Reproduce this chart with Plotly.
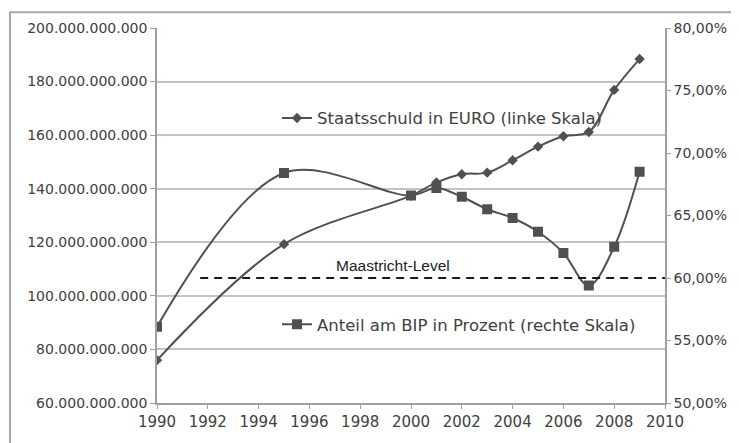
import plotly.graph_objects as go

# ---- data ----
years = [1990, 1995, 2000, 2001, 2002, 2003, 2004, 2005, 2006, 2007, 2008, 2009]
debt_eur = [76.0e9, 119.3e9, 137.4e9, 142.3e9, 145.4e9, 146.0e9, 150.6e9, 155.7e9,
            159.6e9, 161.2e9, 176.9e9, 188.4e9]
debt_pct = [56.1, 68.4, 66.6, 67.2, 66.5, 65.5, 64.8, 63.7, 62.0, 59.4, 62.5, 68.5]
maastricht_x = [1991.7, 2010]
maastricht_level = 60.0

name_debt = "Staatsschuld in EURO (linke Skala)"
name_pct = "Anteil am BIP in Prozent (rechte Skala)"
label_maastricht = "Maastricht-Level"

OFF = 8  # default page body margin
W, H = 739 - OFF, 443 - OFF
L, T = 157 - OFF, 26 - OFF
pw, ph = 508, 378
R, B = W - L - pw, H - T - ph

def px_x(p):
    return (p - OFF - L) / pw

def px_y(p):
    return (T + ph - (p - OFF)) / ph

line_col = "#505050"
txt_col = "#404040"
font_fam = "DejaVu Sans"

fig = go.Figure()

fig.add_trace(go.Scatter(
    x=years, y=debt_eur, name=name_debt, mode="lines+markers",
    line=dict(color=line_col, width=2, shape="spline", smoothing=1),
    marker=dict(symbol="diamond", size=8, color=line_col),
    legend="legend", yaxis="y",
))
fig.add_trace(go.Scatter(
    x=years, y=debt_pct, name=name_pct, mode="lines+markers",
    line=dict(color=line_col, width=2, shape="spline", smoothing=1),
    marker=dict(symbol="square", size=10, color=line_col),
    legend="legend2", yaxis="y2",
))
fig.add_trace(go.Scatter(
    x=maastricht_x, y=[maastricht_level] * len(maastricht_x), mode="lines",
    line=dict(color="#1a1a1a", width=2, dash="8px,6px"),
    showlegend=False, yaxis="y2", hoverinfo="skip",
))

fig.add_annotation(
    x=1999.3, y=61.0, xref="x", yref="y2", text=label_maastricht, showarrow=False,
    font=dict(family="Liberation Sans", size=15.5, color="#222222"),
)

# outer chart border
fig.add_shape(type="rect", xref="paper", yref="paper",
              x0=px_x(10), x1=px_x(760), y0=px_y(460), y1=px_y(10),
              line=dict(color="#a8a8a8", width=2), layer="below")

axis_font = dict(family=font_fam, size=14, color=txt_col)
x_font = dict(family=font_fam, size=15, color=txt_col)

fig.update_layout(
    width=W, height=H,
    margin=dict(l=L, r=R, t=T, b=B),
    paper_bgcolor="white", plot_bgcolor="white",
    separators=",.",
    font=dict(family=font_fam, size=13, color=txt_col),
    xaxis=dict(range=[1990, 2010], dtick=2, tick0=1990, showgrid=False,
               showline=True, linecolor="#a0a0a0", linewidth=1.5,
               ticks="outside", ticklen=4, tickcolor="#a0a0a0",
               tickfont=x_font, zeroline=False),
    yaxis=dict(range=[60e9, 200e9], dtick=20e9, tick0=60e9, tickformat=",d",
               showgrid=True, gridcolor="#c4c4c4", gridwidth=1.5,
               showline=True, linecolor="#a0a0a0", linewidth=1.5,
               ticks="outside", ticklen=5, tickcolor="#a0a0a0",
               tickfont=axis_font, zeroline=False),
    yaxis2=dict(range=[50, 80], dtick=5, tick0=50, tickformat=".2f", ticksuffix="%",
                overlaying="y", side="right", showgrid=False,
                showline=True, linecolor="#a0a0a0", linewidth=1.5,
                ticks="outside", ticklen=4, tickcolor="#a0a0a0",
                tickfont=axis_font, zeroline=False),
    legend=dict(x=px_x(277), y=px_y(117), xanchor="left", yanchor="middle",
                bgcolor="rgba(0,0,0,0)", borderwidth=0,
                font=dict(family=font_fam, size=16.5, color=txt_col)),
    legend2=dict(x=px_x(277), y=px_y(325), xanchor="left", yanchor="middle",
                 bgcolor="rgba(0,0,0,0)", borderwidth=0,
                 font=dict(family=font_fam, size=16.5, color=txt_col)),
)

fig.write_html("out.html")
